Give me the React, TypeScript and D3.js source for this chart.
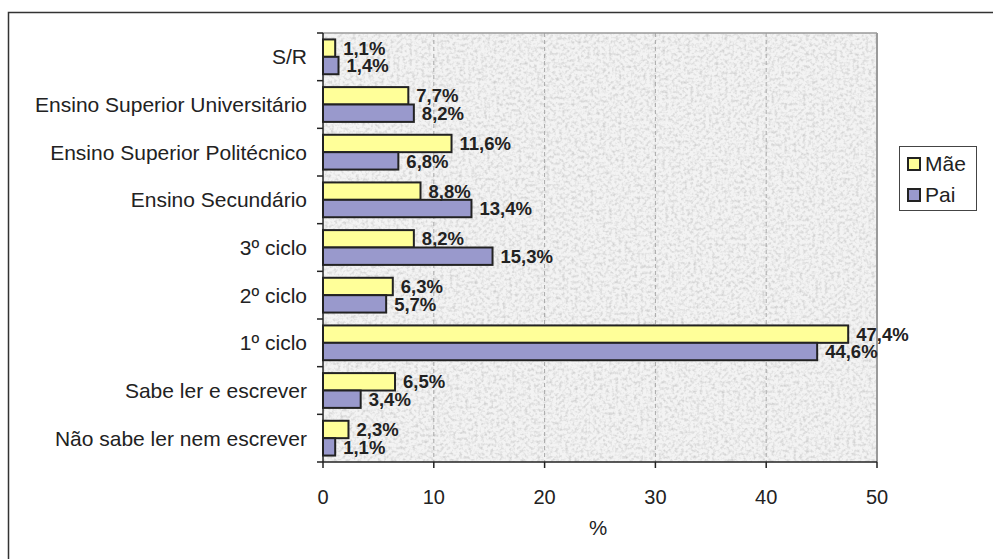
import React from "react";
import * as d3 from "d3";

const categories = [
  "S/R",
  "Ensino Superior Universitário",
  "Ensino Superior Politécnico",
  "Ensino Secundário",
  "3º ciclo",
  "2º ciclo",
  "1º ciclo",
  "Sabe ler e escrever",
  "Não sabe ler nem escrever",
];
const maeValues = [1.1, 7.7, 11.6, 8.8, 8.2, 6.3, 47.4, 6.5, 2.3];
const paiValues = [1.4, 8.2, 6.8, 13.4, 15.3, 5.7, 44.6, 3.4, 1.1];
const seriesNames = ["Mãe", "Pai"];
const seriesColors = ["#ffff99", "#9999cc"];
const xTicks = [0, 10, 20, 30, 40, 50];
const axisTitle = "%";

const W = 993;
const H = 559;
const plot = { left: 323, right: 877, top: 33, bottom: 462 };
const font = "'Liberation Sans', Arial, sans-serif";

const fmt = (v: number) => d3.format(".1f")(v).replace(".", ",") + "%";

export default function App() {
  const x = d3.scaleLinear().domain([0, 50]).range([plot.left, plot.right]);
  const y = d3
    .scaleBand<string>()
    .domain(categories)
    .range([plot.top, plot.bottom])
    .paddingInner(0)
    .paddingOuter(0);
  const inner = d3
    .scaleBand<string>()
    .domain(seriesNames)
    .range([0, y.bandwidth()])
    .paddingOuter(0.37)
    .paddingInner(0);

  const series = [maeValues, paiValues];

  return (
    <svg
      width={W}
      height={H}
      style={{ position: "absolute", left: 0, top: 0, background: "#fff" }}
      fontFamily={font}
    >
      <defs>
        <filter id="grain" x="0" y="0" width="100%" height="100%">
          <feTurbulence type="fractalNoise" baseFrequency="0.32" numOctaves="2" seed="11" result="n" />
          <feColorMatrix
            in="n"
            type="matrix"
            values="0 0 0 0 0.62  0 0 0 0 0.62  0 0 0 0 0.62  2.2 0 0 0 -0.95"
          />
        </filter>
      </defs>

      {/* outer frame */}
      <rect x={8.5} y={12.5} width={W + 10} height={H + 10} fill="none" stroke="#333" strokeWidth={1.5} />

      {/* plot background */}
      <rect x={plot.left} y={plot.top} width={plot.right - plot.left} height={plot.bottom - plot.top} fill="#f3f3f3" />
      <rect
        x={plot.left}
        y={plot.top}
        width={plot.right - plot.left}
        height={plot.bottom - plot.top}
        fill="#fff"
        filter="url(#grain)"
      />

      {/* gridlines */}
      {xTicks.slice(1, -1).map((t) => (
        <line
          key={t}
          x1={x(t)}
          x2={x(t)}
          y1={plot.top}
          y2={plot.bottom}
          stroke="#a8a8a8"
          strokeWidth={1}
          strokeDasharray="4,3"
        />
      ))}

      {/* plot border top / right */}
      <line x1={plot.left} x2={plot.right} y1={plot.top} y2={plot.top} stroke="#9a9a9a" strokeWidth={1.5} />
      <line x1={plot.right} x2={plot.right} y1={plot.top} y2={plot.bottom} stroke="#9a9a9a" strokeWidth={2} />

      {/* bars */}
      {categories.map((c, i) =>
        series.map((vals, s) => (
          <rect
            key={c + s}
            x={x(0)}
            y={(y(c) as number) + (inner(seriesNames[s]) as number)}
            width={x(vals[i]) - x(0)}
            height={inner.bandwidth()}
            fill={seriesColors[s]}
            stroke="#222"
            strokeWidth={2}
          />
        ))
      )}

      {/* value labels */}
      {categories.map((c, i) =>
        series.map((vals, s) => (
          <text
            key={"l" + c + s}
            x={x(vals[i]) + 8}
            y={(y(c) as number) + (inner(seriesNames[s]) as number) + inner.bandwidth() / 2}
            dy="0.36em"
            fontSize={18.5}
            fontWeight="bold"
            fill="#222"
          >
            {fmt(vals[i])}
          </text>
        ))
      )}

      {/* y axis */}
      <line x1={plot.left} x2={plot.left} y1={plot.top} y2={plot.bottom} stroke="#222" strokeWidth={1.5} />
      {[...categories.map((c) => y(c) as number), plot.bottom].map((v, i) => (
        <line key={"yt" + i} x1={plot.left - 6} x2={plot.left} y1={v} y2={v} stroke="#222" strokeWidth={1.5} />
      ))}
      {categories.map((c) => (
        <text
          key={"yl" + c}
          x={plot.left - 16}
          y={(y(c) as number) + y.bandwidth() / 2}
          dy="0.35em"
          textAnchor="end"
          fontSize={21}
          fill="#222"
        >
          {c}
        </text>
      ))}

      {/* x axis */}
      <line x1={plot.left} x2={plot.right} y1={plot.bottom} y2={plot.bottom} stroke="#222" strokeWidth={1.5} />
      {xTicks.map((t) => (
        <g key={"xt" + t}>
          <line x1={x(t)} x2={x(t)} y1={plot.bottom} y2={plot.bottom + 6} stroke="#222" strokeWidth={1.5} />
          <text x={x(t)} y={497} dy="0.35em" textAnchor="middle" fontSize={20} fill="#222">
            {t}
          </text>
        </g>
      ))}
      <text x={598} y={528} dy="0.35em" textAnchor="middle" fontSize={20.5} fill="#222">
        {axisTitle}
      </text>

      {/* legend */}
      <rect x={899.5} y={146.5} width={77} height={64} fill="#fff" stroke="#444" strokeWidth={1} />
      {seriesNames.map((n, i) => (
        <g key={"lg" + n} transform={`translate(0, ${i * 31})`}>
          <rect x={908} y={158} width={12} height={12} fill={seriesColors[i]} stroke="#222" strokeWidth={2} />
          <text x={925} y={164} dy="0.35em" fontSize={21} fill="#222">
            {n}
          </text>
        </g>
      ))}
    </svg>
  );
}
